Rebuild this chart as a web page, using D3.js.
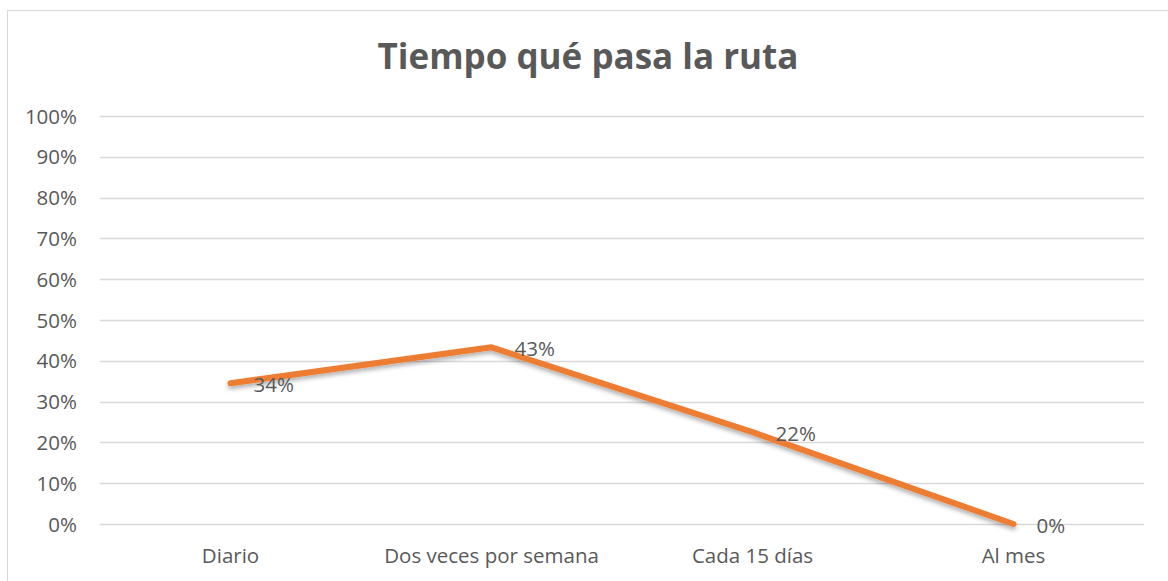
<!DOCTYPE html>
<html>
<head>
<meta charset="utf-8">
<script src="https://cdn.jsdelivr.net/npm/d3@7/dist/d3.min.js"></script>
<style>
  html, body { margin: 0; padding: 0; background: #ffffff; }
  svg { display: block; }
  text { font-family: "Open Sans", "Noto Sans", sans-serif; fill: #595959; }
</style>
</head>
<body>
<svg id="chart" width="1168" height="581"></svg>
<script>
const title = "Tiempo qué pasa la ruta";
const categories = ["Diario", "Dos veces por semana", "Cada 15 días", "Al mes"];
const values = [0.345, 0.433, 0.225, 0];
const valueLabels = ["34%", "43%", "22%", "0%"];
const yTicks = [0, 0.1, 0.2, 0.3, 0.4, 0.5, 0.6, 0.7, 0.8, 0.9, 1.0];

const W = 1168, H = 581;
const svg = d3.select("#chart");

// drop shadow for the line
const defs = svg.append("defs");
const f = defs.append("filter").attr("id", "shadow")
  .attr("x", "-5%").attr("y", "-20%").attr("width", "110%").attr("height", "160%");
f.append("feDropShadow").attr("dx", 0).attr("dy", 3).attr("stdDeviation", 2.2)
  .attr("flood-color", "#000").attr("flood-opacity", 0.3);

// chart border (extends past right/bottom edges)
svg.append("rect").attr("x", 7.5).attr("y", 10.5).attr("width", 1200).attr("height", 600)
  .attr("fill", "#fff").attr("stroke", "#d9d9d9").attr("stroke-width", 1);

const plot = { left: 100, right: 1144, top: 116, bottom: 524 };

const x = d3.scaleBand().domain(categories).range([plot.left, plot.right]).padding(0);
const y = d3.scaleLinear().domain([0, 1]).range([plot.bottom, plot.top]);

// gridlines
svg.append("g").selectAll("line").data(yTicks).join("line")
  .attr("x1", plot.left).attr("x2", plot.right)
  .attr("y1", d => Math.round(y(d)) + 0.5).attr("y2", d => Math.round(y(d)) + 0.5)
  .attr("stroke", "#d9d9d9").attr("stroke-width", 1.5);

// y axis labels
const yAxis = d3.axisLeft(y).tickValues(yTicks).tickFormat(d3.format(".0%")).tickSize(0).tickPadding(0);
const gy = svg.append("g").attr("transform", `translate(77,0)`).call(yAxis);
gy.select(".domain").remove();
gy.selectAll("text").attr("font-size", 20.5).attr("fill", "#595959")
  .attr("font-family", '"Open Sans", sans-serif').attr("dy", "0.35em");

// x axis labels
const xAxis = d3.axisBottom(x).tickSize(0).tickPadding(0);
const gx = svg.append("g").attr("transform", `translate(0,${plot.bottom})`).call(xAxis);
gx.select(".domain").remove();
gx.selectAll("text").attr("font-size", 20.5).attr("fill", "#595959")
  .attr("font-family", '"Open Sans", sans-serif').attr("y", 39).attr("dy", 0);

// line
const pts = categories.map((c, i) => [x(c) + x.bandwidth() / 2, y(values[i])]);
const line = d3.line();
svg.append("path").attr("d", line(pts))
  .attr("fill", "none").attr("stroke", "#ED7D31").attr("stroke-width", 6)
  .attr("stroke-linecap", "round").attr("stroke-linejoin", "round")
  .attr("filter", "url(#shadow)");

// data labels
svg.append("g").selectAll("text").data(pts).join("text")
  .attr("x", d => d[0] + 23).attr("y", d => d[1] + 8.5)
  .attr("font-size", 20.5).attr("fill", "#404040")
  .text((d, i) => valueLabels[i]);

// title
svg.append("text").attr("x", 588).attr("y", 69).attr("text-anchor", "middle")
  .attr("font-size", 35).attr("font-weight", "bold").attr("fill", "#595959")
  .text(title);
</script>
</body>
</html>
